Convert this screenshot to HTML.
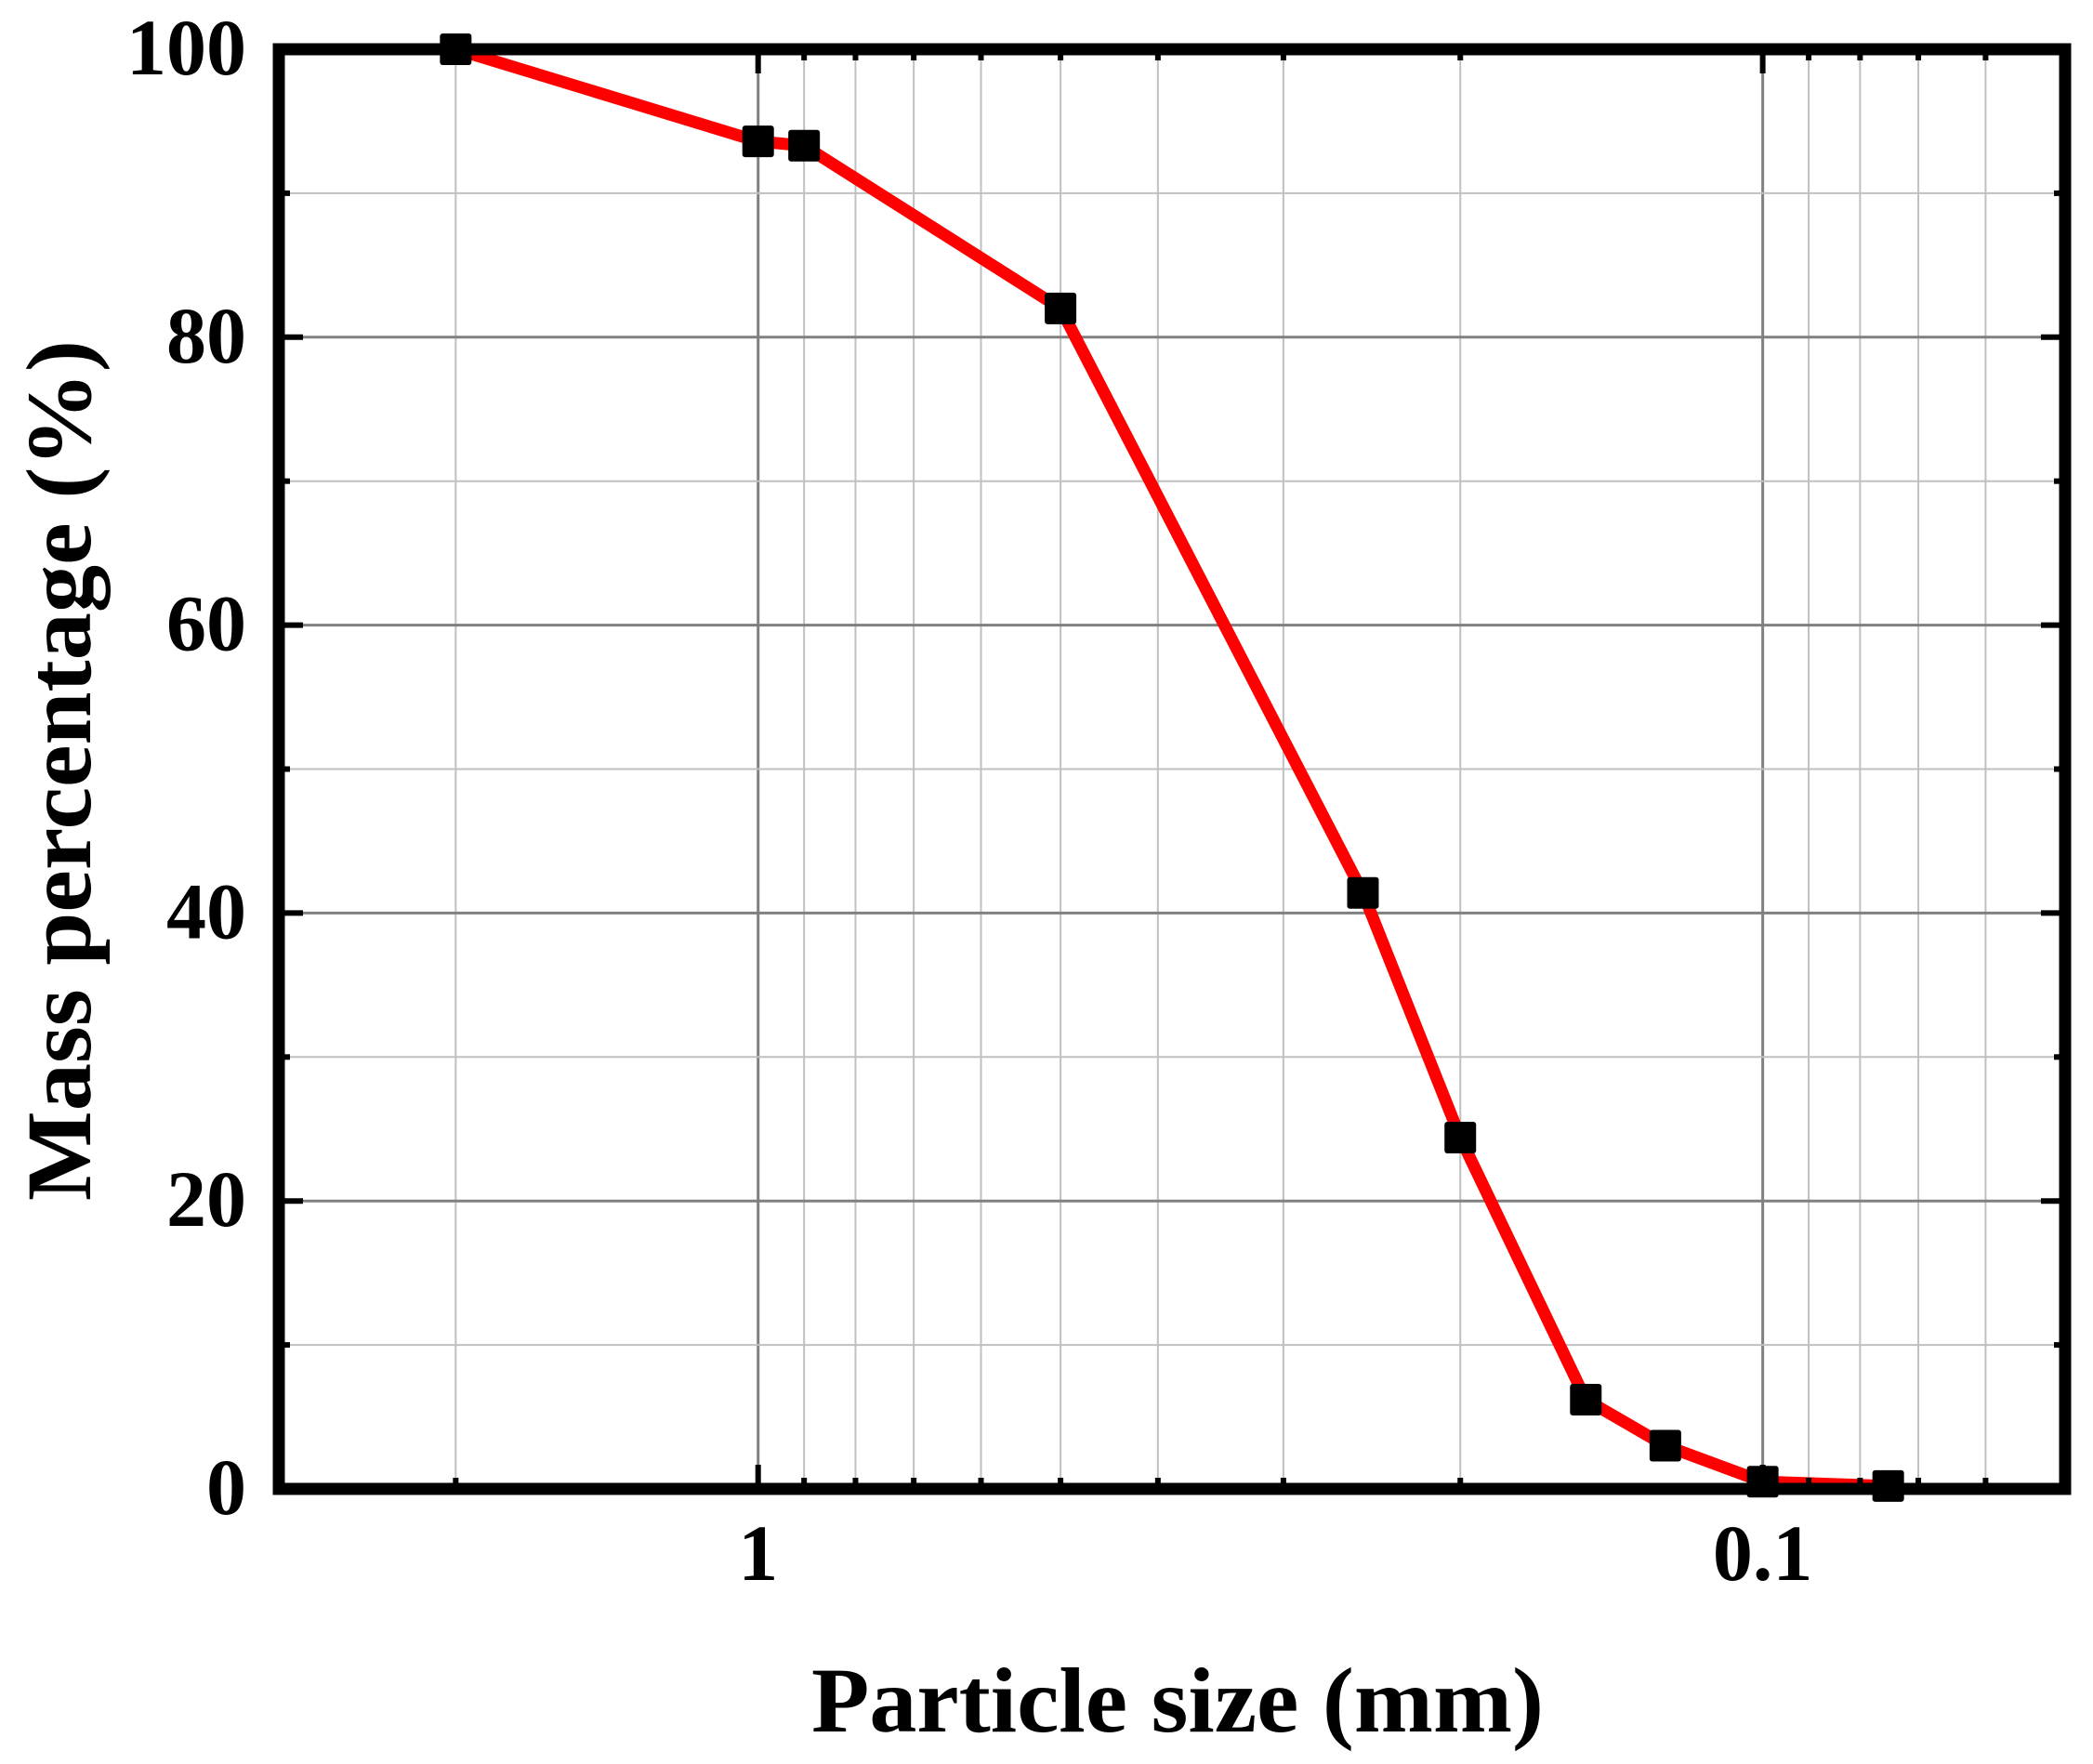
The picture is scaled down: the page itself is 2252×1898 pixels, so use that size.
<!DOCTYPE html>
<html><head><meta charset="utf-8"><title>Particle size distribution</title>
<style>html,body{margin:0;padding:0;background:#fff}svg{display:block}</style></head>
<body>
<svg id="chart" xmlns="http://www.w3.org/2000/svg" width="2252" height="1898" viewBox="0 0 2252 1898">
<g id="grid"></g>
<g id="series"></g>
<g id="axes"></g>
<text x="1267" y="1863" text-anchor="middle" textLength="788" lengthAdjust="spacingAndGlyphs" font-family="Liberation Serif, serif" font-weight="bold" font-size="100">Particle size (mm)</text>
<text transform="translate(97,829) rotate(-90)" text-anchor="middle" textLength="926" lengthAdjust="spacingAndGlyphs" font-family="Liberation Serif, serif" font-weight="bold" font-size="100">Mass percentage (%)</text>
</svg>
<script>
const sizes = [2, 1, 0.9, 0.5, 0.25, 0.2, 0.15, 0.125, 0.1, 0.075];
const percents = [100, 93.6, 93.3, 82.0, 41.4, 24.4, 6.2, 3.0, 0.5, 0.2];
const xMajorTicks = [1, 0.1];
const xMajorLabels = ["1", "0.1"];
const xMinorTicks = [2, 0.9, 0.8, 0.7, 0.6, 0.5, 0.4, 0.3, 0.2, 0.09, 0.08, 0.07, 0.06];
const yMajorTicks = [0, 20, 40, 60, 80, 100];
const yMinorTicks = [10, 30, 50, 70, 90];

const NS = "http://www.w3.org/2000/svg";
const L = 300, R = 2222, T = 53, B = 1602;
const xMax = 3, xMin = 0.05, yMin = 0, yMax = 100;
function xs(v){ return L + (Math.log10(xMax) - Math.log10(v)) / (Math.log10(xMax) - Math.log10(xMin)) * (R - L); }
function ys(v){ return B - (v - yMin) / (yMax - yMin) * (B - T); }
function mk(tag, attrs, parent){ const e = document.createElementNS(NS, tag); for (const k in attrs) e.setAttribute(k, attrs[k]); parent.appendChild(e); return e; }
const grid = document.getElementById('grid'), axes = document.getElementById('axes'), series = document.getElementById('series');

xMinorTicks.forEach(v => {
  const x = xs(v);
  const g = mk('line', {x1:x, x2:x, y1:T, y2:B, stroke:'#c0c0c0', 'stroke-width':2}, grid);
  
  
});
xMajorTicks.forEach(v => {
  const x = xs(v);
  const g = mk('line', {x1:x, x2:x, y1:T, y2:B, stroke:'#808080', 'stroke-width':3}, grid);
  
  
});
yMinorTicks.forEach(v => {
  const y = ys(v);
  const g = mk('line', {x1:L, x2:R, y1:y, y2:y, stroke:'#c0c0c0', 'stroke-width':2}, grid);
  
  
});
yMajorTicks.forEach(v => {
  const y = ys(v);
  const g = mk('line', {x1:L, x2:R, y1:y, y2:y, stroke:'#808080', 'stroke-width':3}, grid);
  
  
});

const pts = sizes.map((s, i) => xs(s) + ',' + ys(percents[i])).join(' ');
const line = mk('polyline', {points:pts, fill:'none', stroke:'#ff0000', 'stroke-width':13, 'stroke-linejoin':'round'}, series);


sizes.forEach((s, i) => {
  const m = mk('rect', {x:xs(s)-17, y:ys(percents[i])-17, width:34, height:34, rx:3, fill:'#000'}, series);
  
  
});

// ticks
function tickX(v, len){
  const x = xs(v);
  const a = mk('line', {x1:x, x2:x, y1:B, y2:B-len, stroke:'#000', 'stroke-width':6}, axes);
  
  
  const b = mk('line', {x1:x, x2:x, y1:T, y2:T+len, stroke:'#000', 'stroke-width':6}, axes);
  
  
}
function tickY(v, len){
  const y = ys(v);
  const a = mk('line', {x1:L, x2:L+len, y1:y, y2:y, stroke:'#000', 'stroke-width':6}, axes);
  
  
  const b = mk('line', {x1:R, x2:R-len, y1:y, y2:y, stroke:'#000', 'stroke-width':6}, axes);
  
  
}
xMinorTicks.forEach(v => tickX(v, 12));
xMajorTicks.forEach(v => tickX(v, 26));
yMinorTicks.forEach(v => tickY(v, 12));
yMajorTicks.forEach(v => tickY(v, 26));

const frame = mk('rect', {x:L, y:T, width:R-L, height:B-T, fill:'none', stroke:'#000', 'stroke-width':13}, axes);



xMajorTicks.forEach((v, i) => {
  const t = mk('text', {x:xs(v), y:1700, 'text-anchor':'middle', 'font-family':'Liberation Serif, serif', 'font-weight':'bold', 'font-size':86}, axes);
  t.textContent = xMajorLabels[i];
  
  
});
yMajorTicks.forEach(v => {
  const t = mk('text', {x:265, y:ys(v)+27, 'text-anchor':'end', 'font-family':'Liberation Serif, serif', 'font-weight':'bold', 'font-size':86}, axes);
  t.textContent = String(v);
  
  
});
</script>
</body></html>
